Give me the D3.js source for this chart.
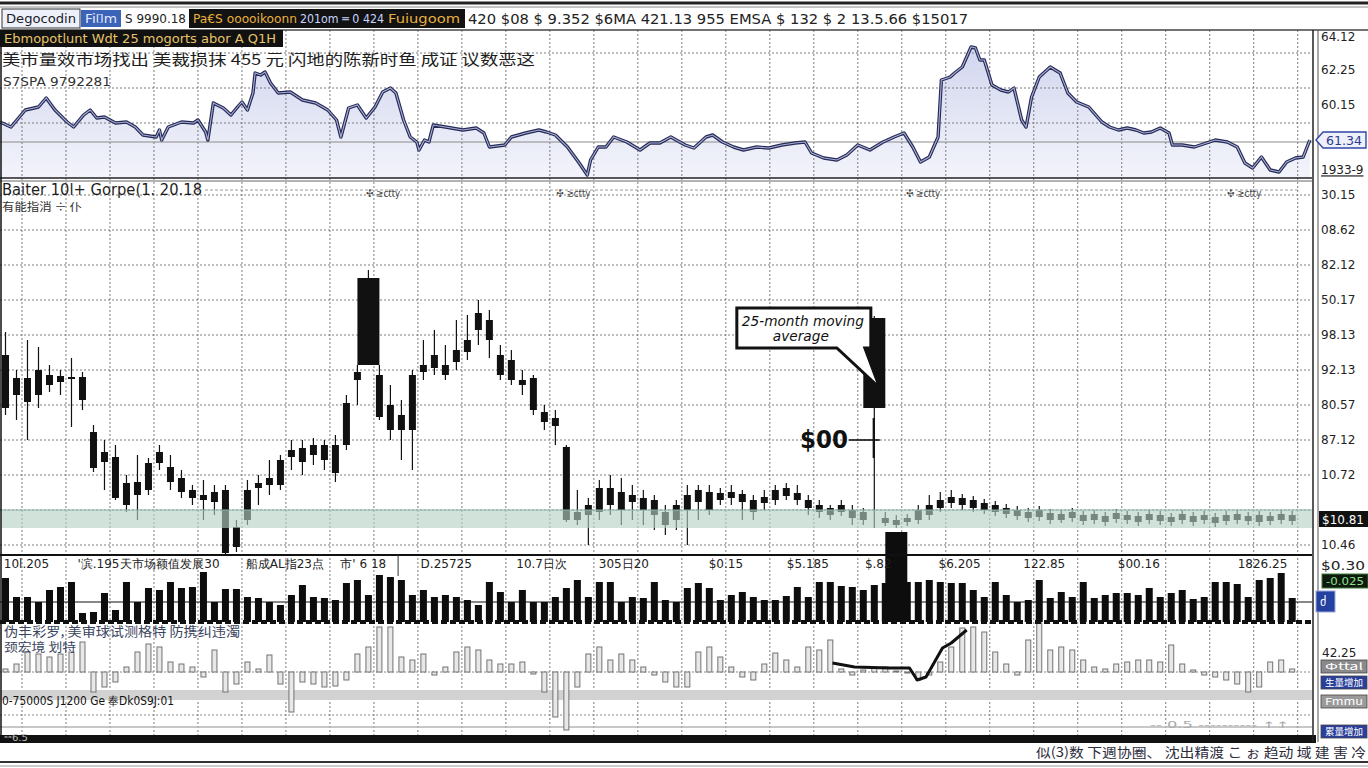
<!DOCTYPE html>
<html>
<head>
<meta charset="utf-8">
<title>chart</title>
<script src="https://cdn.jsdelivr.net/npm/d3@7"></script>
<style>
body { margin: 0; background: #fff; }
svg { display: block; }
text { font-family: "DejaVu Sans", "Liberation Sans", sans-serif; }
.cjk { font-family: "Noto Sans CJK SC", sans-serif; }
</style>
</head>
<body>
<svg id="chart" width="1368" height="768"></svg>
<script>
// monthly candles [open, high, low, close]
var candles = [
  [20.0,22.3,14.0,14.7],[16.0,18.5,13.5,17.7],[17.7,21.5,11.5,15.3],[16.0,20.8,14.7,18.5],[18.0,19.0,16.3,17.0],
  [17.3,18.5,16.0,17.9],[17.8,19.7,12.8,17.6],[17.8,18.3,14.5,15.5],[12.3,13.0,8.3,8.7],[9.3,11.5,6.5,10.3],
  [9.8,11.0,5.5,5.7],[7.2,8.0,4.3,5.0],[6.0,10.0,3.5,7.3],[6.5,9.7,6.0,9.2],[9.2,11.0,8.5,10.3],
  [8.8,10.0,6.5,7.3],[7.7,8.5,5.7,6.3],[6.5,7.0,5.0,5.7],[5.5,7.5,3.5,6.0],[6.3,7.0,4.0,5.3],
  [6.5,7.0,0.0,0.2],[0.8,3.5,0.3,2.8],[3.5,7.5,3.0,6.5],[6.7,8.0,5.0,7.2],[7.0,9.5,6.0,7.7],
  [7.0,10.0,6.5,9.5],[9.8,11.5,8.5,10.5],[10.7,11.5,8.0,9.3],[10.0,11.7,9.0,11.0],[11.0,11.5,8.5,9.5],
  [8.2,12.0,7.3,11.0],[11.0,16.0,10.5,15.2],[17.5,19.0,15.0,18.3],[19.0,28.5,19.0,27.7],[18.0,19.0,13.5,13.8],
  [15.0,17.0,11.5,12.5],[12.5,15.5,9.5,14.0],[12.5,18.5,8.5,18.0],[18.3,21.5,17.5,19.0],[18.7,22.5,18.0,20.0],
  [19.0,21.0,17.5,18.0],[19.3,23.5,18.5,20.5],[20.3,24.0,19.5,21.5],[22.5,25.5,21.0,24.2],[23.5,24.5,19.7,21.5],
  [20.0,21.0,17.5,18.0],[19.5,20.5,17.0,17.5],[17.5,18.5,16.0,17.0],[17.7,18.0,14.0,14.5],[14.3,15.0,12.5,13.3],
  [13.7,14.5,11.0,12.9],[10.8,11.0,3.3,3.5],[3.5,6.5,3.0,4.3],[5.0,5.7,1.0,4.0],[4.3,7.5,3.5,6.7],
  [6.7,8.0,4.0,5.0],[4.5,7.7,3.0,6.3],[6.0,7.0,3.5,5.3],[5.7,6.5,3.0,4.5],[5.5,6.0,2.5,4.0],
  [4.3,5.0,2.0,3.0],[3.5,5.5,2.5,5.0],[4.5,7.0,1.0,6.0],[5.3,7.0,3.5,6.5],[6.3,7.0,4.0,4.5],
  [5.5,6.7,5.0,6.2],[6.3,7.0,5.0,5.7],[6.1,6.5,3.5,5.3],[5.5,6.0,3.5,4.3],[5.2,6.5,4.5,5.8],
  [5.5,7.0,5.0,6.5],[6.7,7.2,5.5,5.9],[6.2,7.0,5.0,5.5],[5.5,6.0,4.0,4.7],[5.0,5.5,3.7,4.3],
  [4.7,5.0,3.5,4.0],[4.3,5.5,3.9,5.0],[4.5,5.0,3.0,3.7],[4.3,4.7,3.0,3.5],[23.7,23.9,2.7,14.7],
  [3.7,4.3,2.9,3.2],[3.5,4.0,2.7,3.0],[3.3,4.1,2.9,3.7],[3.5,5.0,3.1,4.5],[4.0,6.0,3.5,5.0],
  [4.7,6.3,4.3,5.5],[5.2,6.5,4.7,5.8],[5.7,6.1,4.5,5.0],[5.5,5.9,4.3,4.7],[5.2,5.6,4.1,4.5],
  [4.3,5.4,3.9,5.0],[4.7,5.1,3.7,4.1],[4.5,4.9,3.5,3.9],[3.7,4.7,3.3,4.3],[4.5,4.9,3.4,3.8],
  [4.2,4.6,3.1,3.5],[3.5,4.5,3.2,4.1],[4.3,4.7,3.3,3.7],[4.0,4.4,3.0,3.4],[3.5,4.5,3.1,4.1],
  [3.9,4.3,2.9,3.3],[3.6,4.6,3.2,4.2],[4.0,4.4,3.1,3.5],[3.9,4.3,2.9,3.3],[3.5,4.5,3.1,4.1],
  [4.0,4.4,3.0,3.4],[3.8,4.2,2.9,3.3],[3.5,4.5,3.1,4.1],[3.9,4.3,2.9,3.3],[3.5,4.4,3.1,4.0],
  [3.8,4.2,2.8,3.2],[3.4,4.4,3.0,4.0],[4.1,4.5,3.1,3.5],[3.4,4.3,3.0,3.9],[4.0,4.4,2.9,3.3],
  [3.4,4.3,3.0,3.9],[4.1,4.5,3.1,3.5],[3.4,4.4,3.0,4.0]
];
var wideCandles = [33, 79];

var volumes = [
  44,25,25,20,32,35,40,9,10,29, 12,40,20,34,32,40,34,35,50,20,
  33,33,25,24,20,17,27,37,25,24, 22,39,42,27,47,45,42,27,32,25,
  27,25,22,17,40,30,20,32,20,20, 25,34,42,25,40,40,20,25,24,40,
  22,20,34,39,34,22,27,30,25,22, 22,26,35,25,40,40,36,35,32,37,
  39,90,40,40,42,40,39,39,32,25, 40,27,20,22,42,24,30,25,40,24,
  27,29,29,27,34,25,29,32,23,25, 40,40,38,25,42,44,49,24
];
var wideVolumes = [81];
var volumeLevel = 20;

var oscillator = [
  3,8,20,18,15,18,20,30,-20,-15, -10,5,20,28,25,10,8,5,-5,22,
  -20,-12,10,3,17,-12,-40,-10,-12,-15, -14,-8,18,25,45,45,15,12,18,-3,
  5,20,25,22,12,8,8,10,-2,-20, -45,-58,-15,18,25,12,18,12,5,-3,
  -10,-15,-15,20,25,15,5,-5,-8,8, 19,12,5,25,22,32,3,-3,2,4,
  5,1,-1,-8,-3,10,25,44,45,40, 20,8,-3,32,49,22,25,22,12,5,
  3,8,10,12,12,10,27,8,2,-3, -5,-8,-12,-20,-15,10,12,3
];
var signalLine = [[75.7,9],[77.7,5],[80.9,4],[82.7,4],[83.4,-8],[84.2,-5],[85.7,24],[86.5,29],[87.9,42]];

// upper panel series [month, value]
var trendLine = [
  [0,5.8],[1.0,5.3],[2.3,7.0],[3.5,7.3],[4.2,8.2],[5.0,7.0],[6.1,5.8],[6.7,5.3],[7.6,6.5],[8.2,7.0],
  [8.8,6.2],[9.5,6.3],[10.5,5.7],[11.5,5.8],[12.3,5.3],[13.0,4.5],[14.2,4.3],[14.5,5.0],[14.7,4.0],[15.3,5.3],
  [16.5,5.8],[17.6,5.7],[18.0,6.0],[18.7,4.8],[18.9,4.0],[19.4,7.7],[20.3,7.2],[21.0,6.5],[21.6,7.3],[22.0,7.8],
  [22.5,7.0],[23.0,8.7],[23.2,10.7],[23.7,10.5],[24.1,10.8],[24.6,9.7],[25.3,8.7],[26.4,8.8],[27.5,8.0],[28.7,7.7],
  [29.8,7.0],[30.6,6.0],[31.0,4.3],[31.7,7.2],[32.5,7.5],[33.3,6.2],[34.1,7.3],[34.8,8.8],[35.5,9.2],[36.0,8.7],
  [36.7,6.0],[37.3,4.3],[37.9,3.8],[38.1,3.0],[38.6,4.0],[39.0,3.8],[39.4,5.5],[40.5,5.3],[42.1,5.0],[43.3,5.2],
  [44.0,4.7],[44.5,3.3],[45.9,3.5],[46.5,4.3],[47.8,4.7],[49.0,5.0],[49.7,4.8],[50.5,4.5],[51.6,3.3],[52.6,1.8],
  [53.4,0.5],[53.7,2.0],[54.4,3.3],[55.1,3.3],[55.8,4.3],[57.0,3.8],[58.2,3.0],[59.1,3.7],[60.0,3.7],[61.0,4.3],
  [62.3,3.5],[63.1,3.2],[64.2,4.3],[64.8,4.5],[65.7,3.8],[66.7,3.3],[67.6,3.0],[68.8,3.3],[69.9,3.2],[71.1,3.5],
  [72.3,3.7],[73.2,3.8],[73.8,2.7],[74.9,2.2],[76.1,2.0],[77.0,2.5],[78.0,3.5],[79.1,3.0],[80.3,3.8],[81.3,4.3],
  [82.2,4.7],[83.0,3.3],[83.7,1.8],[84.5,2.3],[85.3,4.3],[85.6,10.0],[86.4,10.3],[86.8,10.7],[87.5,11.3],[88.3,13.3],
  [88.7,13.2],[89.1,12.0],[89.5,12.0],[90.2,9.5],[91.0,9.0],[91.7,8.8],[92.2,9.2],[92.9,6.0],[93.3,5.3],[93.8,8.3],
  [94.5,10.3],[95.5,11.3],[96.4,10.7],[97.1,8.7],[97.9,7.8],[99.0,7.3],[100.2,5.8],[100.9,5.3],[101.7,5.0],[102.5,5.2],
  [103.3,5.0],[104.0,4.7],[104.7,4.8],[105.5,5.2],[106.3,4.7],[106.6,3.5],[107.5,3.5],[108.6,3.3],[109.7,3.7],[110.5,4.0],
  [111.6,3.8],[112.5,3.3],[113.2,1.7],[113.9,1.2],[114.7,2.3],[115.5,1.0],[116.3,0.8],[117.0,1.8],[117.8,2.2],[118.5,2.3],
  [119.1,4.0]
];
var trendLevel = 3.8;

var topGrid = [5.7, 9.2, 12.7];
var topTicks = [1.0, 7.5, 11.0, 14.3];
var topTickLabels = ["1933-9", "60.15", "62.25", "64.12"];
var topLastLabel = "61.34";

var priceGrid = [1, 4.5, 8, 11.5, 15, 18.5, 22, 25.5, 29, 32.5, 36];
var priceTicks = [1, 8, 11.5, 15, 18.5, 22, 25.5, 29, 32.5, 36];
var priceTickLabels = ["10.46", "10.72", "87.12", "80.57", "92.13", "98.13", "50.17", "82.12", "08.62", "30.15"];
var priceLastLabel = "$10.81";
var maBand = [2.7, 4.5];

var oscTicks = [19];
var oscTickLabels = ["42.25"];

var xLabelMonths = [0.3, 7.0, 10.9, 22.3, 30.9, 38.2, 46.9, 54.4, 64.4, 71.5, 78.6, 85.3, 93.0, 101.6, 112.5];
var xLabels = ["10l.205", "'滨.195", "天市场额值发展30", "船成AL指23点", "市' 6 18", "D.25725", "10.7日次",
  "305日20", "$0.15", "$5.185", "$.82", "$6.205", "122.85", "$00.16", "1826.25"];

var svg = d3.select("#chart");
var plotRight = 1312;

var x = d3.scaleLinear().domain([0, 119.3]).range([0, plotRight]);
var yTop = d3.scaleLinear().domain([0, 15]).range([180, 30]);
var yPrice = d3.scaleLinear().domain([0, 37.5]).range([555, 180]);
var yVol = d3.scaleLinear().domain([0, 50]).range([622, 572]);
var yOsc = d3.scaleLinear().domain([-63, 50]).range([735, 622]);

var addText = function(px, py, str, size, fill, width, cls) {
  var t = svg.append("text").attr("x", px).attr("y", py)
    .attr("font-size", size).attr("fill", fill || "#222").text(str);
  if (width) t.attr("textLength", width).attr("lengthAdjust", "spacingAndGlyphs");
  if (cls) t.attr("class", cls);
  return t;
};

var hline = function(y, x1, x2, color, w, dash) {
  var l = svg.append("line").attr("x1", x1).attr("x2", x2).attr("y1", y).attr("y2", y)
    .attr("stroke", color).attr("stroke-width", w);
  if (dash) l.attr("stroke-dasharray", dash);
  return l;
};

svg.append("rect").attr("width", 1368).attr("height", 768).attr("fill", "#fff");

// upper panel area
var grad = svg.append("defs").append("linearGradient").attr("id", "topFill")
  .attr("x1", 0).attr("y1", 0).attr("x2", 0).attr("y2", 1);
grad.append("stop").attr("offset", "0%").attr("stop-color", "#d2d6ee");
grad.append("stop").attr("offset", "100%").attr("stop-color", "#f3f4fb");

svg.append("path").datum(trendLine)
  .attr("d", d3.area().x(function(d) { return x(d[0]); }).y0(yTop(0.2)).y1(function(d) { return yTop(d[1]); }))
  .attr("fill", "url(#topFill)");

// grid
var gridMonths = d3.range(2, 119, 4);
svg.append("g").selectAll("line").data(gridMonths).join("line")
  .attr("x1", function(d) { return x(d); }).attr("x2", function(d) { return x(d); })
  .attr("y1", 30).attr("y2", 735)
  .attr("stroke", "#7c7c7c").attr("stroke-dasharray", "2,2");

topGrid.forEach(function(v) { hline(yTop(v), 0, plotRight, "#7c7c7c", 1, "2,2"); });
hline(yTop(trendLevel), 0, plotRight, "#8c8c8c", 1.2);
priceGrid.forEach(function(v) { hline(yPrice(v), 0, plotRight, "#7c7c7c", 1, "2,2"); });

// upper panel line
var trendPath = d3.line().x(function(d) { return x(d[0]); }).y(function(d) { return yTop(d[1]); });
svg.append("path").datum(trendLine).attr("d", trendPath)
  .attr("fill", "none").attr("stroke", "#262b55").attr("stroke-width", 3.4).attr("stroke-linejoin", "round");
svg.append("path").datum(trendLine).attr("d", trendPath)
  .attr("fill", "none").attr("stroke", "#a9aed6").attr("stroke-width", 1.1);

// candles
var candleG = svg.append("g");
candleG.selectAll("line").data(candles).join("line")
  .attr("x1", function(d, i) { return x(i + 0.5); }).attr("x2", function(d, i) { return x(i + 0.5); })
  .attr("y1", function(d) { return yPrice(d[1]); }).attr("y2", function(d) { return yPrice(d[2]); })
  .attr("stroke", "#111").attr("stroke-width", 1.2);
candleG.selectAll("rect").data(candles).join("rect")
  .attr("x", function(d, i) { return x(i + 0.5) - (wideCandles.indexOf(i) >= 0 ? 11 : 3.5); })
  .attr("width", function(d, i) { return wideCandles.indexOf(i) >= 0 ? 22 : 7; })
  .attr("y", function(d) { return yPrice(Math.max(d[0], d[3])); })
  .attr("height", function(d) { return Math.max(1.5, yPrice(Math.min(d[0], d[3])) - yPrice(Math.max(d[0], d[3]))); })
  .attr("fill", "#111");

// moving average band
svg.append("rect").attr("x", 2).attr("width", plotRight - 2)
  .attr("y", yPrice(maBand[1])).attr("height", yPrice(maBand[0]) - yPrice(maBand[1]))
  .attr("fill", "#b4d0c4").attr("opacity", 0.62);
hline(yPrice(maBand[1]), 0, plotRight, "#8fb3a3", 1);

// volume
hline(yVol(volumeLevel), 0, plotRight, "#111", 1.2);
svg.append("g").selectAll("rect").data(volumes).join("rect")
  .attr("x", function(d, i) { return x(i + 0.5) - (wideVolumes.indexOf(i) >= 0 ? 11 : 3.5); })
  .attr("width", function(d, i) { return wideVolumes.indexOf(i) >= 0 ? 22 : 7; })
  .attr("y", function(d) { return yVol(d); })
  .attr("height", function(d) { return yVol(0) - yVol(d); })
  .attr("fill", "#0d0d0d");

// oscillator
svg.append("rect").attr("x", 0).attr("width", plotRight)
  .attr("y", yOsc(-18)).attr("height", yOsc(-28) - yOsc(-18)).attr("fill", "#d2d2d2");
hline(yOsc(0), 0, plotRight, "#8a8a8a", 1, "2,2");
hline(yOsc(-43), 0, plotRight, "#8a8a8a", 1, "2,2");
hline(yOsc(-55), 0, plotRight, "#b5b5b5", 1.4);
svg.append("g").selectAll("rect").data(oscillator).join("rect")
  .attr("x", function(d, i) { return x(i + 0.5) - 2.5; })
  .attr("width", 5)
  .attr("y", function(d) { return yOsc(Math.max(0, d)); })
  .attr("height", function(d) { return Math.abs(yOsc(d) - yOsc(0)); })
  .attr("fill", "#e8e8e8").attr("stroke", "#727272").attr("stroke-width", 1);
svg.append("path").datum(signalLine)
  .attr("d", d3.line().x(function(d) { return x(d[0]); }).y(function(d) { return yOsc(d[1]); }))
  .attr("fill", "none").attr("stroke", "#111").attr("stroke-width", 3).attr("stroke-linejoin", "round");

// panel borders
hline(3, 0, 1368, "#222", 3);
hline(7, 0, 1368, "#888", 1);
hline(30, 0, 1368, "#444", 1.5);
hline(178, 0, plotRight, "#222", 1.6);
hline(181, 0, plotRight, "#666", 1);
hline(555, 0, plotRight, "#111", 2);
hline(622, 0, plotRight, "#111", 4, "6,3");
svg.append("rect").attr("x", 0).attr("y", 735).attr("width", 1316).attr("height", 8).attr("fill", "#111");
hline(762, 0, 1368, "#333", 2);
hline(766, 0, 1368, "#999", 1);
svg.append("line").attr("x1", 1).attr("x2", 1).attr("y1", 30).attr("y2", 742).attr("stroke", "#111").attr("stroke-width", 1.5);
svg.append("line").attr("x1", 1313).attr("x2", 1313).attr("y1", 30).attr("y2", 742).attr("stroke", "#222").attr("stroke-width", 1.5);
svg.append("line").attr("x1", 1318).attr("x2", 1318).attr("y1", 30).attr("y2", 742).attr("stroke", "#555").attr("stroke-width", 1);

// right axes
var styleAxis = function(g) {
  g.select(".domain").remove();
  g.selectAll("text").attr("font-size", 12).attr("fill", "#222")
    .attr("font-family", "DejaVu Sans, sans-serif");
};
svg.append("g").attr("transform", "translate(1320,0)")
  .call(d3.axisRight(yTop).tickValues(topTicks).tickSize(0).tickPadding(1)
    .tickFormat(function(d, i) { return topTickLabels[i]; }))
  .call(styleAxis);
svg.append("g").attr("transform", "translate(1320,0)")
  .call(d3.axisRight(yPrice).tickValues(priceTicks).tickSize(0).tickPadding(1)
    .tickFormat(function(d, i) { return priceTickLabels[i]; }))
  .call(styleAxis);
svg.append("g").attr("transform", "translate(1320,0)")
  .call(d3.axisRight(yOsc).tickValues(oscTicks).tickSize(0).tickPadding(2)
    .tickFormat(function(d, i) { return oscTickLabels[i]; }))
  .call(styleAxis);
svg.selectAll("text").filter(function() { return this.textContent === topTickLabels[0]; })
  .attr("text-decoration", "underline");

// last value markers
var lastTop = yTop(trendLine[trendLine.length - 1][1]);
svg.append("path")
  .attr("d", "M1316," + lastTop + " L1323," + (lastTop - 8) + " H1366 V" + (lastTop + 8) + " H1323 Z")
  .attr("fill", "#eef0fb").attr("stroke", "#3446a6").attr("stroke-width", 1.4);
addText(1326, lastTop + 4.5, topLastLabel, 11.5, "#2a3a90", 36);
var lastPrice = yPrice(candles[candles.length - 1][3]) + 4;
svg.append("rect").attr("x", 1319).attr("y", lastPrice - 8).attr("width", 49).attr("height", 16).attr("fill", "#111");
addText(1322, lastPrice + 4.5, priceLastLabel, 12, "#fff", 42);

// x labels
var xAxisG = svg.append("g").attr("transform", "translate(0,556)")
  .call(d3.axisBottom(x).tickValues(xLabelMonths).tickSize(0).tickPadding(3)
    .tickFormat(function(d, i) { return xLabels[i]; }));
xAxisG.select(".domain").remove();
xAxisG.selectAll("text").attr("text-anchor", "start").attr("font-size", 12).attr("fill", "#222")
  .attr("font-family", "DejaVu Sans, Noto Sans CJK SC, sans-serif");
svg.append("line").attr("x1", x(36.2)).attr("x2", x(36.2)).attr("y1", 555).attr("y2", 576)
  .attr("stroke", "#333").attr("stroke-width", 1);

// right-side widgets
addText(1321, 570, "$0.30", 12, "#222", 44);
svg.append("rect").attr("x", 1322).attr("y", 574).attr("width", 46).attr("height", 14)
  .attr("fill", "#0e1a0e").attr("stroke", "#3a7a3a");
addText(1326, 585, "-0.025", 10.5, "#8fe08f", 38);
svg.append("rect").attr("x", 1316).attr("y", 591).attr("width", 19).attr("height", 21)
  .attr("fill", "#2440a0").attr("stroke", "#9aaad8");
addText(1320, 606, "ძ", 12, "#fff");
var sideBoxes = [[660, "#8a8a8a", "Φttal"], [676, "#2a3f9a", "生量增加"], [695, "#9a9a9a", "Fmmu"], [725, "#2a3f9a", "累量增加"]];
sideBoxes.forEach(function(b) {
  svg.append("rect").attr("x", 1321).attr("y", b[0]).attr("width", 46).attr("height", 13)
    .attr("fill", b[1]).attr("stroke", "#444").attr("stroke-width", 0.8);
  addText(1325, b[0] + 10, b[2], 9.5, "#fff", 38, "cjk");
});

// header rows
svg.append("rect").attr("x", 2).attr("y", 9).attr("width", 78).attr("height", 19)
  .attr("fill", "#eef1fa").attr("stroke", "#333");
addText(6, 23, "Degocodin", 13, "#1a1a2a", 70);
svg.append("rect").attr("x", 81).attr("y", 10).attr("width", 40).attr("height", 17).attr("fill", "#3b63b8");
addText(85, 23, "Fi⌷m", 12, "#e6ecff", 32);
addText(125, 23, "S 9990.18", 13, "#222", 61);
svg.append("rect").attr("x", 189).attr("y", 9).attr("width", 276).attr("height", 19).attr("fill", "#121212");
addText(193, 23, "Pa€S  ooooikoonn", 12, "#e8b040", 104);
addText(300, 23, "201om ═ 0 424", 12, "#c8d4ff", 84);
addText(388, 23, "Fuiugoom", 12, "#e8b040", 72);
addText(468, 24, "420   $08  $  9.352  $6MA   421.13  955 EMSA   $ 132   $ 2 13.5.66    $15017", 14, "#222", 500);

svg.append("rect").attr("x", 0).attr("y", 30).attr("width", 283).attr("height", 17).attr("fill", "#111");
addText(4, 43, "Ebmopotlunt  Wdt 25  mogorts abor A Q1H", 12, "#e6c46a", 272);
addText(2, 65, "美市量效市场找出 美裁损抹 455 元 闪地的陈新时鱼 成证 议数恶这", 15, "#1e1e1e", 533, "cjk");
addText(3, 86, "S7SPA  9792281", 12, "#333", 108);

addText(2, 195, "Baiter 10l+ Gorpe(1. 20.18", 15, "#1e1e1e", 200);
addText(2, 211, "有能指消 ÷ 仆", 11, "#333", 80, "cjk");
hline(190, 205, 1300, "#9a9a9a", 1, "3,2");
[33.3, 50.6, 82.4, 111.6].forEach(function(m) {
  addText(x(m), 197, "✣ ≳ctty", 10.5, "#444", 34);
});

// oscillator texts
addText(4, 636, "伪丰彩罗, 美审球试测格特 防携纠违濁", 13, "#3b4560", 236, "cjk");
addText(4, 652, "颈宏境 划特", 12, "#3b4560", 72, "cjk");
addText(2, 705, "0-75000S J1200 Ge 奉Dk0S9J:01", 12, "#111", 172);
addText(4, 741, "ᵃᵃ6.5", 8, "#bbb", 24);
addText(1150, 728, "-- 0.5 ---------- ↑↑ .", 9, "#aaa", 150);

// footer
addText(1366, 757, "似(3)数 下週协圈、 沈出精渡 こ ぉ 趋动 域 建 害 冷", 13, "#2c2c3a", 330, "cjk")
  .attr("text-anchor", "end");

// annotations
var tipX = x(80.0), tipY = yPrice(16.7);
var bx = x(67.0), by = yPrice(24.7), bw = 134, bh = 40;
svg.append("path")
  .attr("d", "M" + bx + "," + by + " H" + (bx + bw) + " V" + (by + bh) + " H" + (bx + bw - 6) +
    " L" + tipX + "," + tipY + " L" + (bx + bw - 34) + "," + (by + bh) + " H" + bx + " Z")
  .attr("fill", "#fff").attr("stroke", "#111").attr("stroke-width", 3).attr("stroke-linejoin", "miter");
addText(bx + 5, by + 18, "25-month moving", 14.5, "#111", 122).attr("font-style", "italic");
addText(bx + 36, by + 33, "average", 14.5, "#111", 56).attr("font-style", "italic");

var noteY = yPrice(11.5);
svg.append("line").attr("x1", x(77.2)).attr("x2", x(80.0)).attr("y1", noteY).attr("y2", noteY)
  .attr("stroke", "#111").attr("stroke-width", 1.6);
svg.append("line").attr("x1", x(79.45)).attr("x2", x(79.45)).attr("y1", yPrice(13.7)).attr("y2", yPrice(9.7))
  .attr("stroke", "#111").attr("stroke-width", 2.2);
addText(x(77.1), noteY + 8, "$00", 24, "#111", 48).attr("text-anchor", "end").attr("font-weight", "bold");
</script>
</body>
</html>
